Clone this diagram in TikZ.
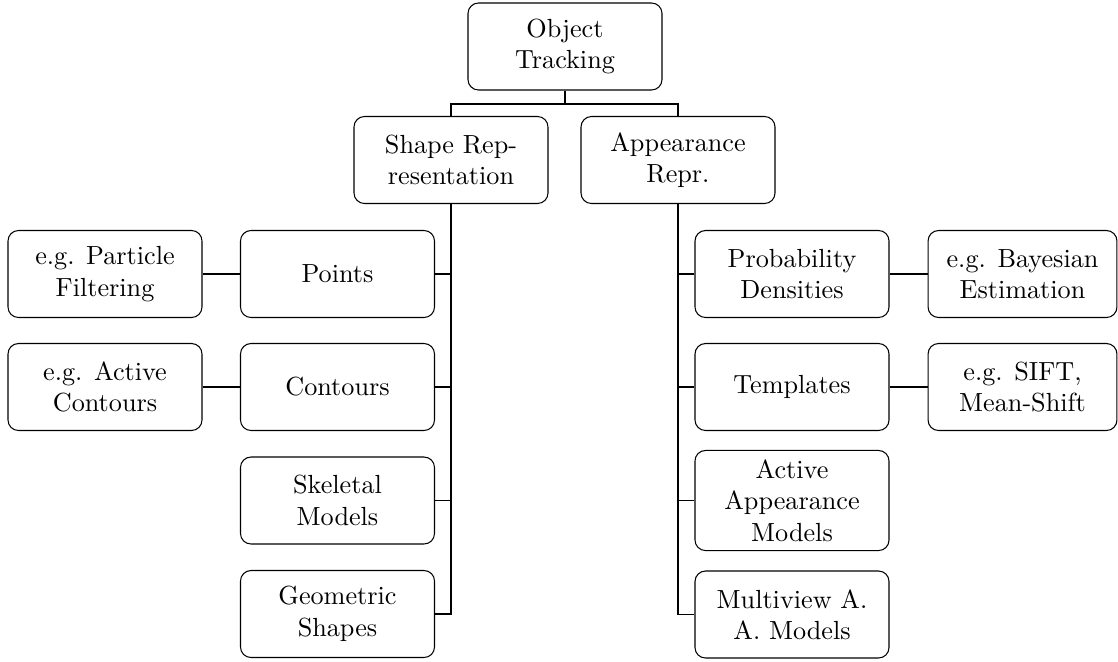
\documentclass[tikz,border=0pt]{standalone}
\begin{document}
\begin{tikzpicture}[x=0.3817pt,y=-0.3817pt,
  box/.style={draw, rounded corners=4pt, align=center,
    minimum width=74.05pt, minimum height=33.2pt, inner sep=2pt,
    font=\fontsize{10}{12}\selectfont},
  narrowbox/.style={box, minimum width=72.1pt},
  tallbox/.style={box, minimum height=38.2pt}]
\useasboundingbox (0,0) rectangle (1118,661);

% root and the two representation families
\node[box] (ot) at (565,46.5) {Object\\Tracking};
\node[box] (sr) at (451,160) {Shape Rep-\\resentation};
\node[box] (ar) at (678,160) {Appearance\\Repr.};

% shape representations and examples
\node[box] (pts) at (337.5,274) {Points};
\node[box] (pf) at (105,274) {e.g. Particle\\Filtering};
\node[box] (cnt) at (337.5,387) {Contours};
\node[box] (ac) at (105,387) {e.g. Active\\Contours};
\node[box] (skel) at (337.5,500.5) {Skeletal\\Models};
\node[box] (geo) at (337.5,614) {Geometric\\Shapes};

% appearance representations and examples
\node[box] (prob) at (792,274) {Probability\\Densities};
\node[narrowbox] (bayes) at (1022.5,274) {e.g. Bayesian\\Estimation};
\node[box] (tmpl) at (792,387) {Templates};
\node[narrowbox] (sift) at (1022.5,387) {e.g. SIFT,\\Mean-Shift};
\node[tallbox] (aam) at (792,500.5) {Active\\Appearance\\Models};
\node[box] (mv) at (792,614.5) {Multiview A.\\A. Models};

% tree connectors
\coordinate (split) at (565,104);
\draw (ot.south) -- (split) -| (sr.north);
\draw (split) -| (ar.north);

\draw (sr.south) |- (pts.east);
\draw (sr.south) |- (cnt.east);
\draw (sr.south) |- (skel.east);
\draw (sr.south) |- (geo.east);
\draw (pf.east) -- (pts.west);
\draw (ac.east) -- (cnt.west);

\draw (ar.south) |- (prob.west);
\draw (ar.south) |- (tmpl.west);
\draw (ar.south) |- (aam.west);
\draw (ar.south) |- (mv.west);
\draw (prob.east) -- (bayes.west);
\draw (tmpl.east) -- (sift.west);
\end{tikzpicture}
\end{document}
